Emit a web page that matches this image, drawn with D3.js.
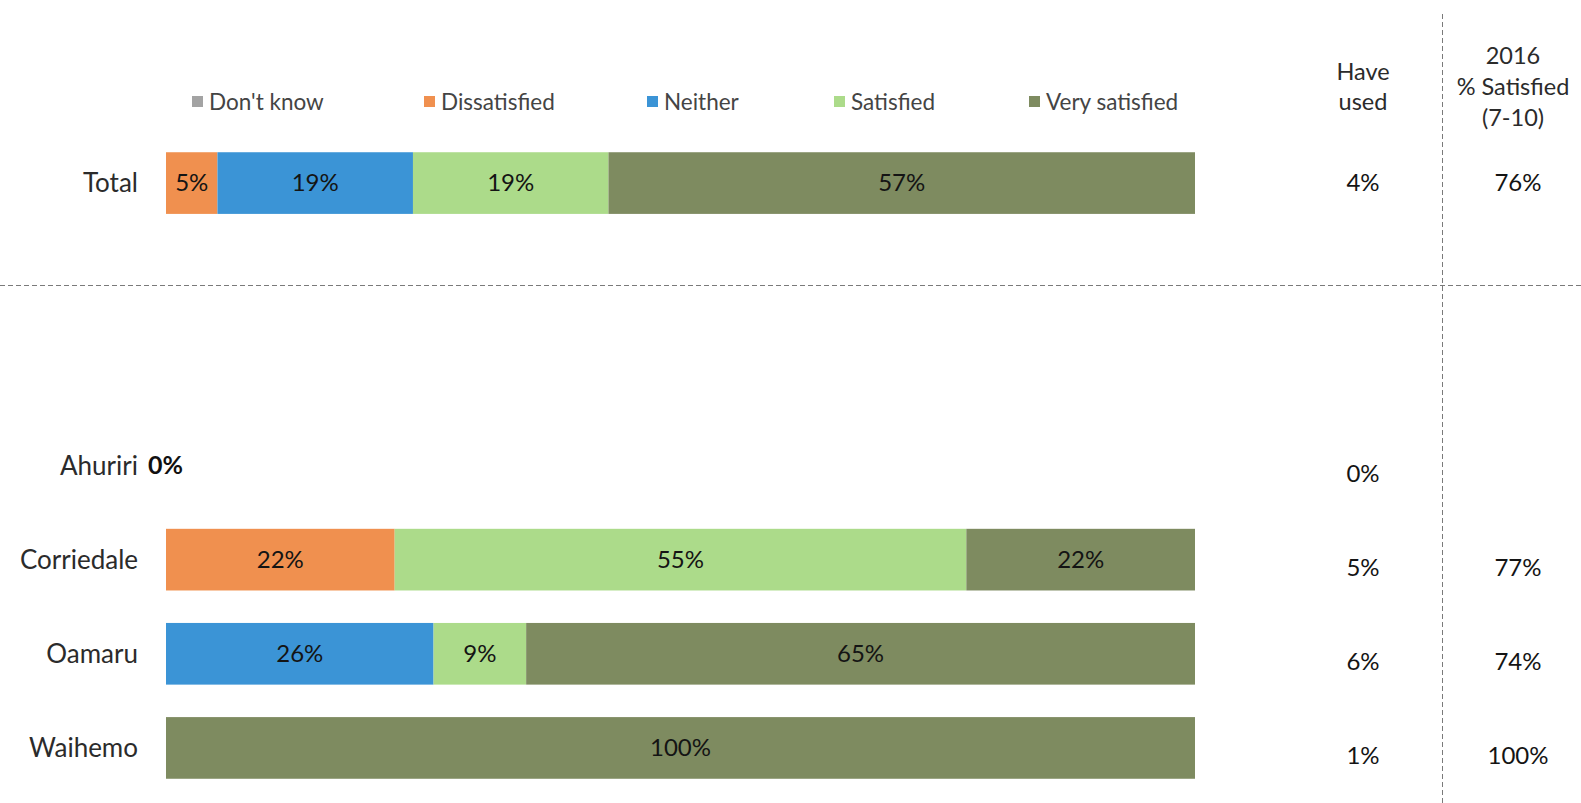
<!DOCTYPE html>
<html>
<head>
<meta charset="utf-8">
<script src="https://cdn.jsdelivr.net/npm/d3@7"></script>
<style>
  html, body { margin: 0; padding: 0; background: #fff; }
  svg { display: block; font-family: Lato, "Open Sans", sans-serif; }
</style>
</head>
<body>
<svg id="chart" width="1581" height="803"></svg>
<script>
// Rows (two spacer slots separate the total from the wards)
const rows = ["Total", "gapA", "gapB", "Ahuriri", "Corriedale", "Oamaru", "Waihemo"];
const areas = ["Total", "Ahuriri", "Corriedale", "Oamaru", "Waihemo"];

// Satisfaction categories, in stacking order
const categories = ["Don't know", "Dissatisfied", "Neither", "Satisfied", "Very satisfied"];
const colors = ["#a3a3a3", "#f0904f", "#3b94d6", "#acdb8a", "#7e8b60"];

// Percentage of users in each category, per area
const dontKnow      = [0, 0, 0, 0, 0];
const dissatisfied  = [5, 0, 22, 0, 0];
const neither       = [19, 0, 0, 26, 0];
const satisfied     = [19, 0, 55, 9, 0];
const verySatisfied = [57, 0, 22, 65, 100];

// Side table
const haveUsed = ["4%", "0%", "5%", "6%", "1%"];
const satisfied2016 = ["76%", "", "77%", "74%", "100%"];

const seriesValues = [dontKnow, dissatisfied, neither, satisfied, verySatisfied];
const table = areas.map((a, i) => {
  const o = { area: a };
  categories.forEach((c, k) => { o[c] = seriesValues[k][i]; });
  return o;
});

const svg = d3.select("#chart");

// 100% stacked bars: each row is scaled to its own total
const x = d3.scaleLinear().domain([0, 1]).range([166, 1195]);
const y = d3.scaleBand().domain(rows).range([136, 795]).paddingInner(0.345).paddingOuter(0.1725);
const color = d3.scaleOrdinal().domain(categories).range(colors);
const bw = y.bandwidth();
const cy = d => y(d) + bw / 2;

const stack = d3.stack().keys(categories).offset(d3.stackOffsetExpand);
const layers = stack(table);

// Bars
const g = svg.append("g");
layers.forEach(layer => {
  const key = layer.key;
  layer.forEach((seg, i) => {
    const v = table[i][key];
    if (!(v > 0)) return;
    const area = table[i].area;
    g.append("rect")
      .attr("x", x(seg[0]))
      .attr("y", y(area))
      .attr("width", x(seg[1]) - x(seg[0]))
      .attr("height", bw)
      .attr("fill", color(key));
    g.append("text")
      .attr("x", (x(seg[0]) + x(seg[1])) / 2)
      .attr("y", cy(area))
      .attr("dy", "0.35em")
      .attr("text-anchor", "middle")
      .attr("font-size", 24)
      .attr("fill", "#141414")
      .text(v + "%");
  });
});

// Row labels
const yAxis = d3.axisLeft(y).tickSize(0).tickPadding(0)
  .tickFormat(d => areas.includes(d) ? d : "");
const axisG = svg.append("g").attr("transform", "translate(138,0)").call(yAxis);
axisG.select(".domain").remove();
axisG.selectAll("text")
  .attr("font-size", 26)
  .attr("font-family", "Lato, sans-serif")
  .attr("fill", "#2b2b2b")
  .attr("dy", "0.35em");

// Rows with no responses show a bold 0%
table.forEach(d => {
  const total = categories.reduce((s, c) => s + d[c], 0);
  if (total === 0) {
    svg.append("text")
      .attr("x", 148).attr("y", cy(d.area)).attr("dy", "0.35em")
      .attr("font-size", 25).attr("font-weight", "bold").attr("fill", "#111")
      .text("0%");
  }
});

// Legend
const legendX = [192, 424, 647, 834, 1029];
const legend = svg.append("g");
categories.forEach((c, i) => {
  legend.append("rect")
    .attr("x", legendX[i]).attr("y", 96).attr("width", 11).attr("height", 11)
    .attr("fill", color(c));
  legend.append("text")
    .attr("x", legendX[i] + 17).attr("y", 102).attr("dy", "0.35em")
    .attr("font-size", 22.5).attr("fill", "#444")
    .text(c);
});

// Dividers
svg.append("line")
  .attr("x1", 0).attr("x2", 1581).attr("y1", 285.5).attr("y2", 285.5)
  .attr("stroke", "#7a7a7a").attr("stroke-width", 1).attr("stroke-dasharray", "5,3");
svg.append("line")
  .attr("x1", 1442.5).attr("x2", 1442.5).attr("y1", 14).attr("y2", 803)
  .attr("stroke", "#7a7a7a").attr("stroke-width", 1).attr("stroke-dasharray", "5,3");

// Side table headers
const colUsed = 1363, col2016 = 1516;
[["Have", 72], ["used", 102]].forEach(([t, yy]) => {
  svg.append("text").attr("x", colUsed).attr("y", yy).attr("dy", "0.35em")
    .attr("text-anchor", "middle").attr("font-size", 23.5).attr("fill", "#2b2b2b").text(t);
});
[["2016", 56], ["% Satisfied", 87], ["(7-10)", 118]].forEach(([t, yy]) => {
  svg.append("text").attr("x", col2016 - 3).attr("y", yy).attr("dy", "0.35em")
    .attr("text-anchor", "middle").attr("font-size", 23.5).attr("fill", "#2b2b2b").text(t);
});

// Side table values
const rowShift = d => d === "Total" ? 0 : 8;
areas.forEach((a, i) => {
  svg.append("text").attr("x", colUsed).attr("y", cy(a) + rowShift(a)).attr("dy", "0.35em")
    .attr("text-anchor", "middle").attr("font-size", 24).attr("fill", "#141414").text(haveUsed[i]);
  if (satisfied2016[i]) {
    svg.append("text").attr("x", col2016 + 2).attr("y", cy(a) + rowShift(a)).attr("dy", "0.35em")
      .attr("text-anchor", "middle").attr("font-size", 24).attr("fill", "#141414").text(satisfied2016[i]);
  }
});
</script>
</body>
</html>
